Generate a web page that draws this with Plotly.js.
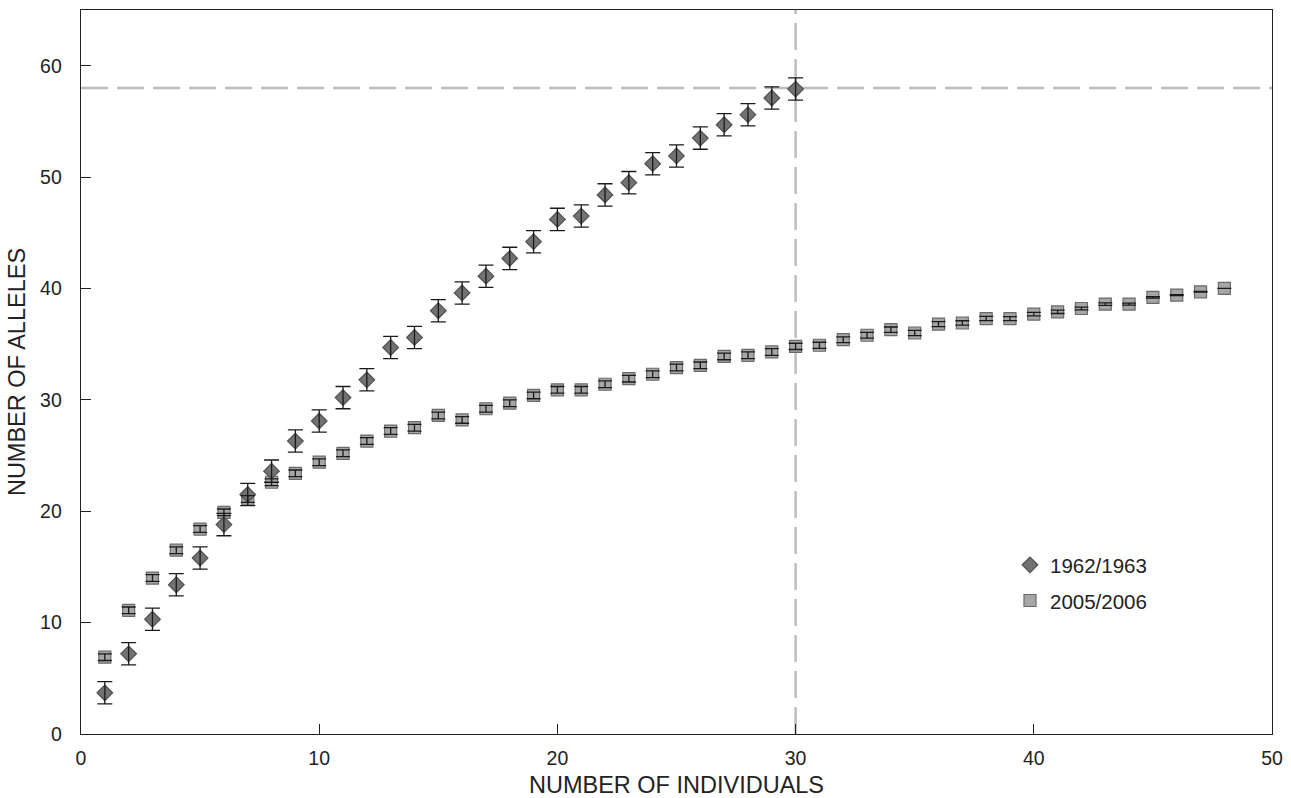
<!DOCTYPE html>
<html>
<head>
<meta charset="utf-8">
<script src="https://cdn.plot.ly/plotly-3.0.1.min.js"></script>
<style>html,body{margin:0;padding:0;background:#fff;}#chart{width:1291px;height:798px;}</style>
</head>
<body>
<div id="chart"></div>
<script>
const individualsOld = [1,2,3,4,5,6,7,8,9,10,11,12,13,14,15,16,17,18,19,20,21,22,23,24,25,26,27,28,29,30];
const allelesOld = [3.7,7.2,10.3,13.4,15.8,18.8,21.5,23.6,26.3,28.1,30.2,31.8,34.7,35.6,38.0,39.6,41.1,42.7,44.2,46.2,46.5,48.4,49.5,51.2,51.9,53.5,54.7,55.6,57.1,57.9];
const errOld = [1.0,1.0,1.0,1.0,1.0,1.0,1.0,1.0,1.0,1.0,1.0,1.0,1.0,1.0,1.0,1.0,1.0,1.0,1.0,1.0,1.0,1.0,1.0,1.0,1.0,1.0,1.0,1.0,1.0,1.0];

const individualsNew = [1,2,3,4,5,6,7,8,9,10,11,12,13,14,15,16,17,18,19,20,21,22,23,24,25,26,27,28,29,30,31,32,33,34,35,36,37,38,39,40,41,42,43,44,45,46,47,48];
const allelesNew = [6.9,11.1,14.0,16.5,18.4,19.9,21.1,22.6,23.4,24.4,25.2,26.3,27.2,27.5,28.6,28.2,29.2,29.7,30.4,30.9,30.9,31.4,31.9,32.3,32.9,33.1,33.9,34.0,34.3,34.8,34.9,35.4,35.8,36.3,36.0,36.8,36.9,37.3,37.3,37.7,37.9,38.2,38.6,38.6,39.2,39.4,39.7,40.0];
const errNew = [0.3,0.3,0.3,0.3,0.3,0.3,0.3,0.3,0.3,0.3,0.3,0.3,0.3,0.3,0.3,0.3,0.3,0.3,0.3,0.3,0.3,0.3,0.3,0.3,0.3,0.3,0.3,0.3,0.3,0.28,0.27,0.26,0.25,0.24,0.23,0.22,0.2,0.19,0.18,0.16,0.15,0.13,0.11,0.09,0.07,0.05,0.03,0.0];

const refX = 30;
const refY = 58;

const fam = 'Liberation Sans, Arial, sans-serif';
const txt = '#222';

const errStyleNew = {type: 'data', array: errNew, visible: true, color: '#1a1a1a', thickness: 1.3, width: 7};
const errStyleOld = {type: 'data', array: errOld, visible: true, color: '#1a1a1a', thickness: 1.3, width: 7.5};

const traces = [
  {
    x: individualsNew, y: allelesNew, type: 'scatter', mode: 'markers', name: '2005/2006', legendgroup: 'b', legendrank: 2,
    marker: {symbol: 'square', size: 12, color: '#a6a6a6', line: {color: '#6a6a6a', width: 1.2}}
  },
  {
    x: individualsOld, y: allelesOld, type: 'scatter', mode: 'markers', name: '1962/1963', legendgroup: 'a', legendrank: 1,
    marker: {symbol: 'diamond', size: 12, color: '#727272', line: {color: '#505050', width: 1.2}}
  },
  {
    x: individualsNew, y: allelesNew, type: 'scatter', mode: 'none', showlegend: false, legendgroup: 'b',
    error_y: errStyleNew
  },
  {
    x: individualsOld, y: allelesOld, type: 'scatter', mode: 'none', showlegend: false, legendgroup: 'a',
    error_y: errStyleOld
  }
];

const layout = {
  width: 1291, height: 798,
  margin: {l: 81, r: 19, t: 10, b: 64},
  paper_bgcolor: '#fff', plot_bgcolor: '#fff',
  font: {family: fam, color: txt, size: 20},
  showlegend: true,
  legend: {x: 0.78, y: 0.261, xanchor: 'left', yanchor: 'top', traceorder: 'grouped', tracegroupgap: 6,
           font: {size: 20.5, color: txt, family: fam}, bgcolor: 'rgba(0,0,0,0)'},
  xaxis: {
    range: [0, 50], tickvals: [0,10,20,30,40,50], ticks: 'inside', ticklen: 10, tickcolor: '#222', tickwidth: 1,
    showline: true, mirror: true, linecolor: '#222', linewidth: 1.3, showgrid: false, zeroline: false,
    ticklabelstandoff: 6,
    title: {text: 'NUMBER OF INDIVIDUALS', font: {size: 23.5, color: txt, family: fam}, standoff: 8},
    tickfont: {size: 19.5, color: txt, family: fam}
  },
  yaxis: {
    range: [0, 65], tickvals: [0,10,20,30,40,50,60], ticks: 'inside', ticklen: 10, tickcolor: '#222', tickwidth: 1,
    showline: true, mirror: true, linecolor: '#222', linewidth: 1.3, showgrid: false, zeroline: false,
    ticklabelstandoff: 14,
    title: {text: 'NUMBER OF ALLELES', font: {size: 23.5, color: txt, family: fam}, standoff: 8},
    tickfont: {size: 19.5, color: txt, family: fam}
  },
  shapes: [
    {type: 'line', xref: 'x', yref: 'paper', x0: refX, x1: refX, y0: 0, y1: 1, layer: 'below', line: {color: '#bdbdbd', width: 2.5, dash: '27px,9px'}},
    {type: 'line', xref: 'paper', yref: 'y', x0: 0, x1: 1, y0: refY, y1: refY, layer: 'below', line: {color: '#bdbdbd', width: 2.5, dash: '27px,9px'}}
  ]
};

Plotly.newPlot('chart', traces, layout, {displayModeBar: false, staticPlot: true});
</script>
</body>
</html>
